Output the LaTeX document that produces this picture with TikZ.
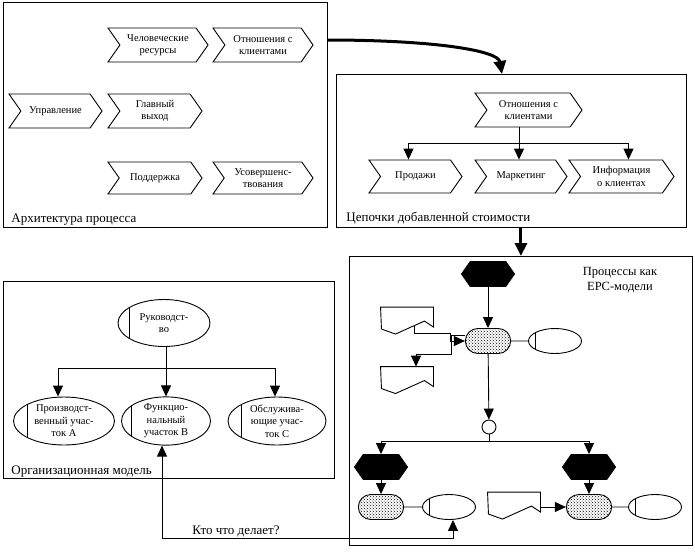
\documentclass[tikz,border=0pt]{standalone}
\usepackage{fontspec}
\setmainfont{Liberation Serif}
\usetikzlibrary{shapes.symbols,shapes.geometric,shapes.misc,arrows.meta,patterns,calc}

\tikzset{
	chevron/.style={signal, signal from=west, signal to=east, signal pointer angle=110,
		draw, minimum width=100, minimum height=34, inner sep=1, align=center},
	event/.style={signal, signal to=east and west, signal pointer angle=110,
		draw, fill=black, minimum width=53, minimum height=25},
	func/.style={rounded rectangle, draw, pattern=crosshatch dots, minimum width=52, minimum height=25},
	orgunit/.style={ellipse, draw, inner sep=0, align=center, minimum width=53, minimum height=25},
	docu/.style={minimum width=52, minimum height=27, inner sep=0},
	frame/.style={draw, anchor=north west, inner sep=0},
	title/.style={font=\fontsize{13}{15}\selectfont, inner sep=0},
	arr/.style={-{Triangle[length=11pt,width=10pt]}},
	arr2/.style={{Triangle[length=11pt,width=10pt]}-{Triangle[length=11pt,width=10pt]}},
	bigarr/.style={line width=3pt, -{Triangle[length=13pt,width=12pt]}}
}

\begin{document}
\begin{tikzpicture}[x=1pt, y=-1pt, line width=0.9pt, font=\fontsize{10.5}{12.5}\selectfont]
	\useasboundingbox (0,0) rectangle (695,552);
	
	% frames
	\node at (3,2) (arch) [frame, minimum width=324, minimum height=225] {};
	\node at (336,74) (chain) [frame, minimum width=350, minimum height=153] {};
	\node at (349,256) (epc) [frame, minimum width=343, minimum height=289] {};
	\node at (3,281) (orgm) [frame, minimum width=331, minimum height=197] {};
	
	\node at (11,222) (archlbl) [title, anchor=base west] {Архитектура процесса};
	\node at (346,221) (chainlbl) [title, anchor=base west] {Цепочки добавленной стоимости};
	\node at (11,474) (orglbl) [title, anchor=base west] {Организационная модель};
	\node at (620,280) (epclbl) [title, align=center, font=\fontsize{12.5}{15}\selectfont] {Процессы как\\EPC-модели};
	\node at (236,534) (whodoes) [title, anchor=base] {Кто что делает?};
	
	% process architecture
	\node at (158,45) (hr) [chevron] {Человеческие\\ресурсы};
	\node at (263,45) (rela) [chevron] {Отношения с\\клиентами};
	\node at (55.5,111) (mgmt) [chevron, minimum width=93] {Управление};
	\node at (155,111) (mainout) [chevron, minimum width=94] {Главный\\выход};
	\node at (155,178) (supp) [chevron, minimum width=94, minimum height=32] {Поддержка};
	\node at (263,178) (impr) [chevron, minimum height=32] {Усовершенс-\\твования};
	
	% value chain
	\node at (528.5,110) (relb) [chevron, minimum width=107] {Отношения с\\клиентами};
	\node at (415.5,176.5) (sales) [chevron, minimum width=93, minimum height=33] {Продажи};
	\node at (521,176.5) (mark) [chevron, minimum width=92, minimum height=33] {Маркетинг};
	\node at (621.5,176.5) (info) [chevron, minimum width=105, minimum height=33] {Информация\\о клиентах};
	
	\coordinate (chainfork) at (519,143);
	\draw (relb.south -| chainfork) -- (chainfork);
	\draw [arr] (chainfork) -| ([xshift=-7]sales.north);
	\draw [arr] (chainfork) -- (chainfork |- mark.north);
	\draw [arr] (chainfork) -| ([xshift=7]info.north);
	
	\coordinate (archout) at (327,40);
	\coordinate (chainin) at (502,74);
	\draw [bigarr] (archout) .. controls (430,40) and (498,50) .. (chainin);
	\draw [bigarr] (epc.north |- chain.south) -- (epc.north);
	
	% organisation
	\node at (164,323) (ruk) [orgunit, minimum width=92, minimum height=47] {Руководст-\\во};
	\node at (64,421) (prod) [orgunit, minimum width=101, minimum height=48] {Производст-\\венный учас-\\ток А};
	\node at (166,421) (func) [orgunit, minimum width=89, minimum height=48] {Функцио-\\нальный\\участок В};
	\node at (277,421) (serv) [orgunit, minimum width=98, minimum height=48] {Обслужива-\\ющие учас-\\ток С};
	
	\coordinate (orgfork) at (166,368);
	\draw (ruk.south -| orgfork) -- (orgfork);
	\draw [arr] (orgfork) -| ([xshift=-6]prod.north);
	\draw [arr] (orgfork) -- (func.north);
	\draw [arr] (orgfork) -| ([xshift=-2]serv.north);
	
	% EPC
	\node at (488,274) (evstart) [event] {};
	\node at (488,341) (fnmain) [func] {};
	\node at (555,341) (orga) [orgunit] {};
	\node at (407,321) (docin) [docu] {};
	\node at (407,381) (docout) [docu, minimum height=28] {};
	\node at (489,427) (xorc) [circle, draw, minimum size=14, inner sep=0] {};
	\node at (381,467) (evleft) [event] {};
	\node at (589,467) (evright) [event] {};
	\node at (381,507) (fnleft) [func] {};
	\node at (449,507) (orgb) [orgunit] {};
	\node at (589,507) (fnright) [func] {};
	\node at (655,507) (orgc) [orgunit] {};
	\node at (514,506) (docright) [docu] {};
	
	\foreach \d in {docin,docout,docright}
		\draw (\d.north west) -- (\d.north east) -- ++(0,20) -- ++(-9,-6) -- ++(-29,13) -- ++(-14,-5) -- cycle;
	\foreach \n in {ruk,prod,func,serv,orga,orgb,orgc}
		\draw (\n.155) -- (\n.205);
	
	\draw [arr] (evstart) -- (fnmain);
	\draw (fnmain) -- (orga);
	\coordinate (docinout) at (414,326);
	\draw [arr] (docinout) |- (450,333) |- (fnmain.west);
	\draw [arr] ([yshift=6]fnmain.west) -- ++(-13,0) |- (416,354) -- ([xshift=9]docout.north);
	\draw [arr] (fnmain) -- (xorc);
	\coordinate (epcfork) at (489,441);
	\draw (xorc) -- (epcfork);
	\draw [arr] (epcfork) -| (evleft);
	\draw [arr] (epcfork) -| (evright);
	\draw [arr] (evleft) -- (fnleft);
	\draw [arr] (evright) -- (fnright);
	\draw (fnleft) -- (orgb);
	\draw (fnright) -- (orgc);
	\draw [arr] (docright.east |- fnright) -- (fnright);
	
	\coordinate (fbcorner) at (453,538);
	\draw [arr2] ([xshift=-4]func.south) |- (fbcorner) -- (fbcorner |- orgb.south);
\end{tikzpicture}
\end{document}
